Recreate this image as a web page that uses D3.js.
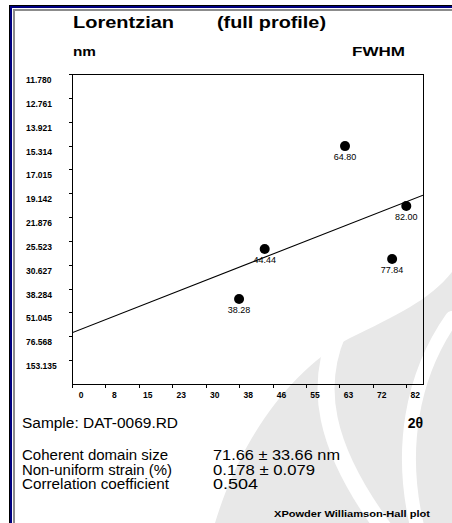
<!DOCTYPE html>
<html lang="en">
<head>
  <meta charset="UTF-8">
  <title>XPowder Williamson-Hall plot</title>
  <script src="https://d3js.org/d3.v7.min.js"></script>
  <style>
    body { margin: 0; padding: 0; background: #fff; }
    svg { display: block; font-family: "Liberation Sans", Arial, sans-serif; }
    .axis-label { font-size: 8.5px; font-weight: bold; fill: #000; }
    .peak-label { font-size: 9px; fill: #000; }
    .title { font-size: 16.5px; font-weight: bold; }
    .unit { font-size: 13px; font-weight: bold; }
    .info { font-size: 14px; }
    .frame-line { fill: none; stroke: #000; stroke-width: 1px; }
    .fit { fill: none; stroke: #000; stroke-width: 1.1px; }
    .wm-fill { fill: #e8e8e8; stroke: none; }
    .wm-gap { fill: none; stroke: #fff; stroke-linecap: round; }
  </style>
</head>
<body>
  <svg width="452" height="523"></svg>
  <script>
    // === values ===
    // y axis: apparent size (nm), linear in 1/size
    const yTickLabels = ["11.780", "12.761", "13.921", "15.314", "17.015", "19.142", "21.876",
                         "25.523", "30.627", "38.284", "51.045", "76.568", "153.135"];
    // x axis: 2θ labels, linear in sin θ
    const xTickLabels = ["0", "8", "15", "23", "30", "38", "46", "55", "63", "72", "82"];
    // peaks: 2θ and apparent size (nm)
    const peak2theta = [38.28, 44.44, 64.80, 77.84, 82.00];
    const peakSize = [42.97, 27.06, 15.35, 29.22, 20.52];
    const peakLabels = ["38.28", "44.44", "64.80", "77.84", "82.00"];
    // result text
    const statNames = ["Coherent domain size", "Non-uniform strain (%)", "Correlation coefficient"];
    const statValues = ["71.66 ± 33.66 nm", "0.178 ± 0.079", "0.504"];
    const statNameWidths = [146, 150, 147];
    const statValueWidths = [127, 102, 45];

    const svg = d3.select("svg");
    const box = { left: 72, right: 423, top: 74, bottom: 384 };

    // === window border ===
    svg.append("rect").attr("x", 9).attr("y", 5).attr("width", 443).attr("height", 518).attr("fill", "#000");
    svg.append("rect").attr("x", 10).attr("y", 6).attr("width", 442).attr("height", 517).attr("fill", "#000080");
    svg.append("rect").attr("x", 12).attr("y", 8).attr("width", 440).attr("height", 515).attr("fill", "#fff");
    svg.append("rect").attr("x", 13).attr("y", 9).attr("width", 439).attr("height", 514).attr("fill", "#8c8c8c");
    svg.append("rect").attr("x", 15).attr("y", 11).attr("width", 437).attr("height", 512).attr("fill", "#fff");

    // === faint background logo ===
    const wm = svg.append("g");
    wm.append("path").attr("class", "wm-fill")
      .attr("d", "M 215 523 C 240 440, 290 370, 350 338 C 395 316, 430 300, 452 272 L 452 523 Z");
    wm.append("path").attr("class", "wm-gap").attr("stroke-width", 17)
      .attr("d", "M 338 332 C 315 385, 322 445, 385 530");
    wm.append("path").attr("class", "wm-gap").attr("stroke-width", 14)
      .attr("d", "M 452 318 C 412 375, 398 450, 418 530");

    // === scales ===
    const xStep = Math.sin(+xTickLabels[xTickLabels.length - 1] / 2 * Math.PI / 180) / (xTickLabels.length - 1);
    const x = d3.scaleLinear().domain([0, xStep * (xTickLabels.length - 0.5)]).range([box.left, box.right]);
    const y = d3.scaleLinear().domain([0, 1 / +yTickLabels[0]]).range([box.bottom, box.top]);

    // plot frame
    svg.append("rect").attr("class", "frame-line")
      .attr("x", box.left + 0.5).attr("y", box.top + 0.5)
      .attr("width", box.right - box.left).attr("height", box.bottom - box.top);

    // y ticks
    yTickLabels.forEach(lab => {
      const ty = y(1 / +lab);
      svg.append("line").attr("class", "frame-line")
        .attr("x1", box.left - 3).attr("x2", box.left).attr("y1", Math.round(ty) + 0.5).attr("y2", Math.round(ty) + 0.5);
      svg.append("text").attr("class", "axis-label")
        .attr("x", 26).attr("y", ty + 9).text(lab);
    });

    // x ticks
    xTickLabels.forEach((lab, i) => {
      const tx = x(i * xStep);
      svg.append("line").attr("class", "frame-line")
        .attr("x1", Math.round(tx) + 0.5).attr("x2", Math.round(tx) + 0.5).attr("y1", box.bottom).attr("y2", box.bottom + 4);
      svg.append("text").attr("class", "axis-label")
        .attr("x", tx + 9).attr("y", box.bottom + 14).attr("text-anchor", "middle").text(lab);
    });

    // === data ===
    const pts = peak2theta.map((t, i) => ({
      sx: Math.sin(t / 2 * Math.PI / 180),
      iy: 1 / peakSize[i],
      label: peakLabels[i]
    }));

    // least-squares line
    const mx = d3.mean(pts, d => d.sx), my = d3.mean(pts, d => d.iy);
    const slope = d3.sum(pts, d => (d.sx - mx) * (d.iy - my)) / d3.sum(pts, d => (d.sx - mx) ** 2);
    const icpt = my - slope * mx;
    const xd = x.domain();
    svg.append("defs").append("clipPath").attr("id", "plotclip")
      .append("rect").attr("x", box.left).attr("y", box.top)
      .attr("width", box.right - box.left).attr("height", box.bottom - box.top);
    svg.append("line").attr("class", "fit").attr("clip-path", "url(#plotclip)")
      .attr("x1", x(xd[0])).attr("y1", y(icpt + slope * xd[0]))
      .attr("x2", x(xd[1])).attr("y2", y(icpt + slope * xd[1]));

    svg.selectAll(".peak").data(pts).enter().append("circle")
      .attr("class", "peak")
      .attr("cx", d => x(d.sx)).attr("cy", d => y(d.iy)).attr("r", 5).attr("fill", "#000");
    svg.selectAll(".peak-label").data(pts).enter().append("text")
      .attr("class", "peak-label")
      .attr("x", d => x(d.sx)).attr("y", d => y(d.iy) + 13.5)
      .attr("text-anchor", "middle").text(d => d.label);

    // === titles ===
    function fitText(txt, cls, x0, y0, w) {
      return svg.append("text").attr("class", cls).attr("x", x0).attr("y", y0)
        .attr("textLength", w).attr("lengthAdjust", "spacingAndGlyphs").text(txt);
    }
    fitText("Lorentzian", "title", 73, 28, 101);
    fitText("(full profile)", "title", 217, 28, 109);
    fitText("nm", "unit", 73, 56, 23);
    fitText("FWHM", "unit", 352, 56, 53);
    fitText("Sample: DAT-0069.RD", "info", 22, 428, 156);
    svg.append("text").attr("x", 423).attr("y", 428).attr("text-anchor", "end")
      .style("font-size", "14px").style("font-weight", "bold").text("2θ");

    statNames.forEach((n, i) => {
      fitText(n, "info", 22, 460 + i * 14.5, statNameWidths[i]);
      fitText(statValues[i], "info", 213, 460 + i * 14.5, statValueWidths[i]);
    });
    fitText("XPowder Williamson-Hall plot", "axis-label", 274, 517, 156);
  </script>
</body>
</html>
